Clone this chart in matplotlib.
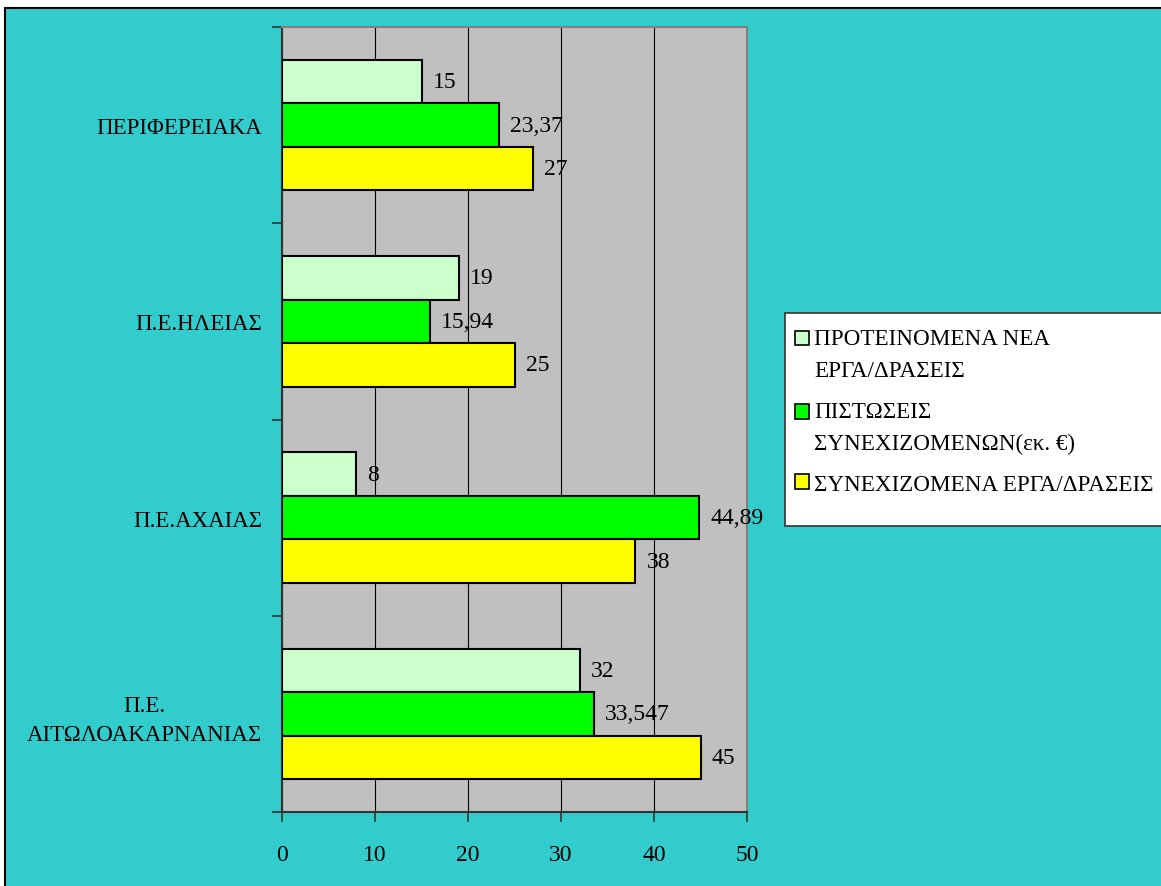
import matplotlib
matplotlib.use("Agg")
import matplotlib.pyplot as plt
from matplotlib.patches import Rectangle, Patch
from matplotlib.legend_handler import HandlerPatch
import numpy as np

categories = ["Π.Ε.\nΑΙΤΩΛΟΑΚΑΡΝΑΝΙΑΣ", "Π.Ε.ΑΧΑΙΑΣ", "Π.Ε.ΗΛΕΙΑΣ", "ΠΕΡΙΦΕΡΕΙΑΚΑ"]
proposed = [32, 8, 19, 15]
credits = [33.547, 44.89, 15.94, 23.37]
continuing = [45, 38, 25, 27]
proposed_lbl = ["32", "8", "19", "15"]
credits_lbl = ["33,547", "44,89", "15,94", "23,37"]
continuing_lbl = ["45", "38", "25", "27"]
series_names = ["ΠΡΟΤΕΙΝΟΜΕΝΑ ΝΕΑ\nΕΡΓΑ/ΔΡΑΣΕΙΣ",
                "ΠΙΣΤΩΣΕΙΣ\nΣΥΝΕΧΙΖΟΜΕΝΩΝ(εκ. €)",
                "ΣΥΝΕΧΙΖΟΜΕΝΑ ΕΡΓΑ/ΔΡΑΣΕΙΣ"]
xticks = [0, 10, 20, 30, 40, 50]

plt.rcParams['font.family'] = ['Liberation Serif', 'DejaVu Serif']
FS = 17


class UpHandler(HandlerPatch):
    def __init__(self, shift):
        super().__init__()
        self.shift = shift

    def create_artists(self, legend, orig_handle, xdescent, ydescent, width, height,
                       fontsize, trans):
        p = Rectangle((-xdescent, -ydescent + self.shift), width, height)
        self.update_prop(p, orig_handle, legend)
        p.set_transform(trans)
        return [p]


W, H = 1161, 887
fig = plt.figure(figsize=(W/100, H/100), dpi=100)
fig.patch.set_facecolor('white')
# outer chart area
fig.patches.append(Rectangle((5/W, -0.1), 1.2, 1.1 - 9/H, transform=fig.transFigure,
                             facecolor='#33CCCC', edgecolor='black', linewidth=1.5, zorder=-10))

ax = fig.add_axes([282/W, 1 - 813/H, (747-282)/W, (813-28)/H])
ax.set_facecolor('#C0C0C0')

y = np.arange(len(categories))
h = 0.2215
cols = ['#CCFFCC', '#00FF00', '#FFFF00']
data = [proposed, credits, continuing]
lbls = [proposed_lbl, credits_lbl, continuing_lbl]
offs = [h, 0, -h]
for vals, lab, c, o, name in zip(data, lbls, cols, offs, series_names):
    bars = ax.barh(y + o, vals, height=h, color=c, edgecolor='black', linewidth=1.5,
                   label=name, zorder=3)
    ax.bar_label(bars, labels=lab, padding=8, fontsize=FS, zorder=4)

ax.set_xlim(0, 50)
ax.set_ylim(-0.5, 3.5)
ax.set_xticks(xticks)
ax.set_xticklabels([str(t) for t in xticks], fontsize=FS)
ax.tick_params(axis='x', direction='out', length=7, width=1.2, pad=16, color='#333333')
ax.grid(axis='x', color='black', linewidth=0.8, zorder=1)
ax.set_yticks(y)
ax.set_yticklabels(categories, fontsize=16.5, multialignment='center', linespacing=1.5)
ax.tick_params(axis='y', which='major', length=0, pad=14.5)
ax.set_yticks(np.arange(-0.5, 3.6, 1), minor=True)
ax.tick_params(axis='y', which='minor', direction='out', length=7, width=1.2, color='#333333')
for s in ['top', 'right']:
    ax.spines[s].set_color('#808080')
    ax.spines[s].set_linewidth(1.5)
for s in ['left', 'bottom']:
    ax.spines[s].set_color('#333333')
    ax.spines[s].set_linewidth(1.5)

# legend box
fig.patches.append(Rectangle((785/W, 1 - 527/H), 400/W, (527-314)/H, transform=fig.transFigure,
                             facecolor='white', edgecolor='#333333', linewidth=1.2, zorder=5))
handles = [Patch(facecolor=c, edgecolor='black', linewidth=1.2) for c in cols]
hmap = {handles[0]: UpHandler(11.5), handles[1]: UpHandler(11.5), handles[2]: UpHandler(0)}
leg = fig.legend(handles, series_names, loc='upper left', handler_map=hmap,
                 bbox_to_anchor=(790/W, 1 - 324/H), frameon=False, fontsize=16.7,
                 handlelength=0.6, handleheight=0.6, handletextpad=0.25,
                 labelspacing=0.85, borderaxespad=0, borderpad=0.2)
for t in leg.get_texts():
    t.set_linespacing(1.7)
leg.set_zorder(6)
fig.savefig('out.png', dpi=100)
